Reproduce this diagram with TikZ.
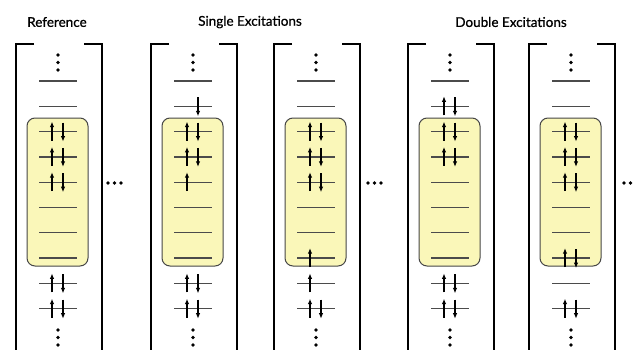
\documentclass[tikz,border=0pt]{standalone}
\usepackage{fontspec}
\setmainfont{Lato}
\newfontfamily\titlefont{Lato}[FakeBold=0.7]
\usetikzlibrary{arrows.meta}

\definecolor{levelgray}{RGB}{75,75,75}
\definecolor{boxyellow}{RGB}{250,247,185}
\definecolor{boxgray}{RGB}{70,70,70}

\tikzset{
  orblevel/.style={draw=levelgray, line width=1.3pt},
  spin/.style={line width=1.3pt, -{Latex[length=5.5pt,width=4.5pt]}},
  bracketline/.style={draw=black, line width=1.9pt},
  activebox/.style={draw=boxgray, fill=boxyellow, line width=1pt, rounded corners=8pt},
  paneltitle/.style={font=\titlefont\fontsize{13.5}{16}\selectfont, inner sep=0pt},
  dotmark/.style={fill=black, draw=none},
}

% One determinant: #1 = centre x, #2 = list of up/down occupations, top level first
\newcommand\orbpanel[2]{%
  \begin{scope}[shift={(#1,0)}]
    % bracket
    \draw[bracketline] (-24,44) -- (-42,44) -- (-42,352);
    \draw[bracketline] (26,44) -- (44,44) -- (44,352);
    % active space
    \draw[activebox] (-31,118) rectangle (30,266);
    % vertical ellipses
    \foreach \yy in {55,62.5,70,330,337.5,345}
      \fill[dotmark] (0,\yy) circle (1.8);
    % levels and spins
    \foreach \u/\d [count=\k from 0] in {#2} {
      \pgfmathsetmacro\yy{81+25.3*\k}
      \draw[orblevel] (-19,\yy) -- (19,\yy);
      \ifnum\u=1 \draw[spin] (-6,\yy+9) -- (-6,\yy-10); \fi
      \ifnum\d=1 \draw[spin] (5,\yy-9) -- (5,\yy+10); \fi
    }
  \end{scope}}

% horizontal ellipsis starting at #1
\newcommand\hdots[1]{%
  \foreach \dx in {0,6.5,13}
    \fill[dotmark] (#1+\dx,183) circle (1.8);}

\begin{document}
\begin{tikzpicture}[x=1pt, y=-1pt]
  \useasboundingbox (0,0) rectangle (633,349);

  \node[paneltitle] (tref) at (57,22) {Reference};
  \node[paneltitle] (tsingle) at (250,22) {Single Excitations};
  \node[paneltitle] (tdouble) at (511,22) {Double Excitations};

  \orbpanel{58}{0/0,0/0,1/1,1/1,1/1,0/0,0/0,0/0,1/1,1/1}
  \orbpanel{193}{0/0,0/1,1/1,1/1,1/0,0/0,0/0,0/0,1/1,1/1}
  \orbpanel{316}{0/0,0/0,1/1,1/1,1/1,0/0,0/0,1/0,1/0,1/1}
  \orbpanel{450}{0/0,1/1,1/1,1/1,0/0,0/0,0/0,0/0,1/1,1/1}
  \orbpanel{571}{0/0,0/0,1/1,1/1,1/1,0/0,0/0,1/1,0/0,1/1}

  \hdots{108}
  \hdots{368}
  \hdots{624}
\end{tikzpicture}
\end{document}
